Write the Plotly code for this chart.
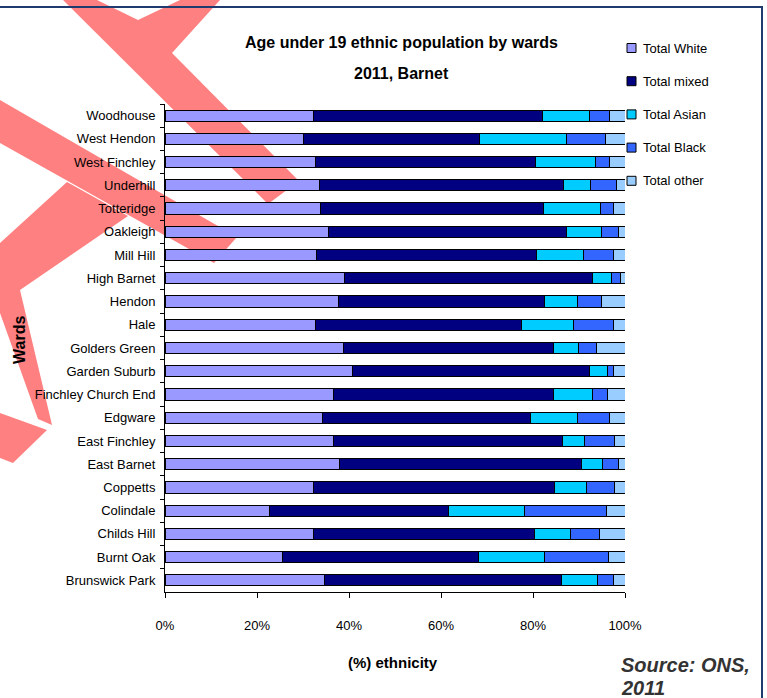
import plotly.graph_objects as go

# Wards listed bottom-to-top as they appear on the category axis
wards = [
    "Brunswick Park", "Burnt Oak", "Childs Hill", "Colindale", "Coppetts",
    "East Barnet", "East Finchley", "Edgware", "Finchley Church End",
    "Garden Suburb", "Golders Green", "Hale", "Hendon", "High Barnet",
    "Mill Hill", "Oakleigh", "Totteridge", "Underhill", "West Finchley",
    "West Hendon", "Woodhouse",
]

# Share of under-19 population (%) by ethnic group
total_white = [34.6, 25.5, 32.2, 22.8, 32.2, 38.0, 36.7, 34.3, 36.6, 40.8, 38.9,
               32.8, 37.7, 39.1, 33.0, 35.6, 33.7, 33.5, 32.8, 30.2, 32.2]
total_mixed = [51.6, 42.6, 48.1, 38.8, 52.4, 52.5, 49.7, 45.1, 47.8, 51.5, 45.5,
               44.7, 44.7, 53.9, 47.7, 51.7, 48.6, 53.1, 47.7, 38.2, 49.8]
total_asian = [7.9, 14.3, 7.8, 16.5, 7.1, 4.5, 4.9, 10.2, 8.6, 3.8, 5.4,
               11.4, 7.2, 4.0, 10.2, 7.6, 12.3, 6.0, 13.1, 18.8, 10.2]
total_black = [3.5, 14.1, 6.3, 17.8, 6.1, 3.5, 6.5, 7.1, 3.3, 1.4, 4.1,
               8.7, 5.3, 2.1, 6.5, 3.6, 2.8, 5.6, 3.1, 8.5, 4.5]
total_other = [2.4, 3.5, 5.6, 4.1, 2.2, 1.5, 2.2, 3.3, 3.7, 2.5, 6.1,
               2.4, 5.1, 0.9, 2.6, 1.5, 2.6, 1.8, 3.3, 4.3, 3.3]

series_names = ["Total White", "Total mixed", "Total Asian", "Total Black", "Total other"]
series_values = [total_white, total_mixed, total_asian, total_black, total_other]
series_colors = ["#9999FF", "#000080", "#00CCFF", "#3366FF", "#99CCFF"]

x_tick_values = [0, 20, 40, 60, 80, 100]
x_tick_labels = ["0%", "20%", "40%", "60%", "80%", "100%"]

SANS = "Liberation Sans, Arial, sans-serif"

# Canvas size and bar-panel edges in pixels
FIG_W, FIG_H = 767, 698
PLOT_L, PLOT_R, PLOT_T, PLOT_B = 165, 625, 104, 592

fig = go.Figure()

# Backdrop panel (xaxis/yaxis) spans the whole canvas in pixel units.
# Red cross strokes are drawn there, behind the bar panel.
red_strokes = [
    [(63, 0), (97, 0), (138, 20), (180, 0), (220, 0), (172, 53), (299, 181), (268, 204)],
    [(0, 100), (237, 237), (214, 263), (0, 143)],
    [(67, 182), (128, 216), (20, 290), (52, 425), (38, 419), (0, 313), (0, 243)],
    [(0, 413), (47, 430), (13, 463), (0, 458)],
]
for pts in red_strokes:
    xs = [p[0] for p in pts] + [pts[0][0]]
    ys = [p[1] for p in pts] + [pts[0][1]]
    fig.add_trace(go.Scatter(
        x=xs, y=ys, mode="lines", fill="toself", fillcolor="#FF8080",
        line=dict(width=0, color="#FF8080"), hoverinfo="skip", showlegend=False,
        xaxis="x", yaxis="y",
    ))

# Stacked bars on the second panel
for name, vals, col in zip(series_names, series_values, series_colors):
    fig.add_trace(go.Bar(
        y=wards, x=vals, name=name, orientation="h", showlegend=False,
        xaxis="x2", yaxis="y2",
        marker=dict(color=col, line=dict(color="#000000", width=1)),
    ))

# Outer frame (top and right edges visible)
shapes = [dict(type="rect", xref="x", yref="y",
               x0=-10, x1=762, y0=7, y1=720,
               line=dict(color="#1F3A6E", width=2), fillcolor="rgba(0,0,0,0)",
               layer="above")]


def label(text, x, y, size, anchor="center", angle=0, color="#000000",
          style="normal", weight="bold"):
    return dict(text=text, x=x, y=y, xref="x", yref="y", showarrow=False,
                xanchor=anchor, yanchor="middle", textangle=angle,
                font=dict(family=SANS, size=size, color=color, weight=weight, style=style))


annotations = [
    label("Age under 19 ethnic population by wards", 401, 42, 16),
    label("2011, Barnet", 401, 73, 16),
    label("(%) ethnicity", 393, 662, 15),
    label("Wards", 19, 340, 16, angle=-90),
    label("Source: ONS,", 619, 665, 20, anchor="left", color="#333333", style="italic"),
    label("2011", 619, 688, 20, anchor="left", color="#333333", style="italic"),
]

# Legend key: small outlined swatch plus name for each series
LEGEND_TOP, LEGEND_STEP = 48, 33.2
for i, (name, col) in enumerate(zip(series_names, series_colors)):
    cy = LEGEND_TOP + i * LEGEND_STEP
    shapes.append(dict(type="rect", xref="x", yref="y",
                       x0=627, x1=636, y0=cy - 4.5, y1=cy + 4.5,
                       fillcolor=col, line=dict(color="#000000", width=1), layer="above"))
    annotations.append(label(name, 641, cy, 13, anchor="left", weight="normal"))

fig.update_layout(
    width=FIG_W, height=FIG_H, autosize=False,
    margin=dict(l=0, r=0, t=0, b=0, pad=0, autoexpand=False),
    barmode="stack", bargap=0.52,
    paper_bgcolor="#FFFFFF", plot_bgcolor="rgba(0,0,0,0)",
    font=dict(family=SANS, color="#000000"),
    showlegend=False,
    xaxis=dict(domain=[0, 1], range=[0, FIG_W], visible=False, fixedrange=True),
    yaxis=dict(domain=[0, 1], range=[FIG_H, 0], visible=False, fixedrange=True),
    xaxis2=dict(
        domain=[PLOT_L / FIG_W, PLOT_R / FIG_W], anchor="y2",
        range=[0, 100], tickvals=x_tick_values, ticktext=x_tick_labels,
        showgrid=False, zeroline=False, showline=True, linecolor="#000000", linewidth=1,
        ticks="outside", ticklen=5, tickcolor="#000000",
        tickfont=dict(family=SANS, size=13, color="#000000"), ticklabelstandoff=16,
    ),
    yaxis2=dict(
        domain=[1 - PLOT_B / FIG_H, 1 - PLOT_T / FIG_H], anchor="x2",
        categoryorder="array", categoryarray=wards,
        showgrid=False, zeroline=False, showline=True, linecolor="#000000", linewidth=1,
        ticks="outside", ticklen=4, tickcolor="#000000", tickson="boundaries",
        tickfont=dict(family=SANS, size=13, color="#000000"), ticklabelstandoff=6,
    ),
    shapes=shapes,
    annotations=annotations,
)

fig.write_html("out.html")
